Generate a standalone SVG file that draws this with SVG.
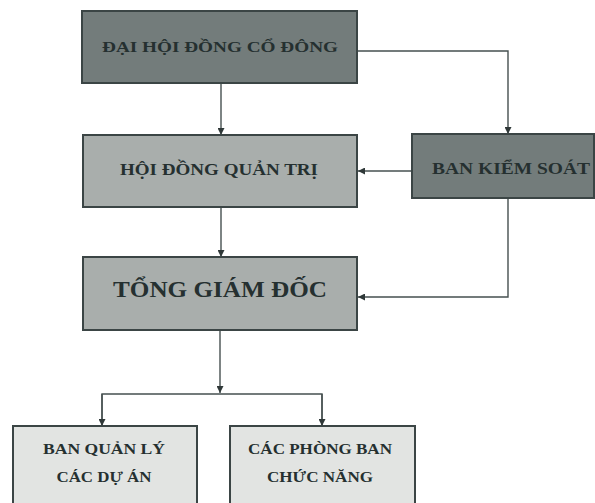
<svg xmlns="http://www.w3.org/2000/svg" width="595" height="503" viewBox="0 0 595 503">
  <style>
    .box { stroke: #3b4545; stroke-width: 2; }
    .dark { fill: #737c7b; }
    .mid { fill: #a9aeac; }
    .light { fill: #e2e4e2; }
    .t { font-family: "Liberation Serif", "DejaVu Serif", serif; font-weight: bold; fill: #253030; text-anchor: middle; }
    .conn { fill: none; stroke: #465050; stroke-width: 1.4; }
  </style>
  <defs>
    <marker id="ah" viewBox="0 0 10 10" refX="10" refY="5" markerWidth="7" markerHeight="7" markerUnits="userSpaceOnUse" orient="auto">
      <path d="M0,0 L10,5 L0,10 z" fill="#2f3838"/>
    </marker>
  </defs>
  <rect width="595" height="503" fill="#ffffff"/>

  <g id="connectors">
    <path class="conn" d="M221,83 V135" marker-end="url(#ah)"/>
    <path class="conn" d="M357,51 H508 V134" marker-end="url(#ah)"/>
    <path class="conn" d="M412,171 H358" marker-end="url(#ah)"/>
    <path class="conn" d="M221,207 V257" marker-end="url(#ah)"/>
    <path class="conn" d="M508,198 V297 H358" marker-end="url(#ah)"/>
    <path class="conn" d="M220,330 V393" marker-end="url(#ah)"/>
    <path class="conn" d="M102,426 V394 H322 V426" />
    <path class="conn" d="M102,394 V426" marker-end="url(#ah)"/>
    <path class="conn" d="M322,394 V426" marker-end="url(#ah)"/>
  </g>

  <g id="dai-hoi-dong-co-dong">
    <rect class="box dark" x="82" y="11" width="275" height="72"/>
    <text class="t" x="220" y="52" font-size="14" textLength="236" lengthAdjust="spacingAndGlyphs">ĐẠI HỘI ĐỒNG CỔ ĐÔNG</text>
  </g>

  <g id="hoi-dong-quan-tri">
    <rect class="box mid" x="83" y="135" width="274" height="72"/>
    <text class="t" x="219" y="175" font-size="17" textLength="198" lengthAdjust="spacingAndGlyphs">HỘI ĐỒNG QUẢN TRỊ</text>
  </g>

  <g id="ban-kiem-soat">
    <rect class="box dark" x="412" y="134" width="182" height="64"/>
    <text class="t" x="511" y="174" font-size="16" textLength="158" lengthAdjust="spacingAndGlyphs">BAN KIỂM SOÁT</text>
  </g>

  <g id="tong-giam-doc">
    <rect class="box mid" x="83" y="257" width="274" height="73"/>
    <text class="t" x="220" y="297" font-size="23" font-weight="normal" textLength="214" lengthAdjust="spacingAndGlyphs">TỔNG GIÁM ĐỐC</text>
  </g>

  <g id="ban-quan-ly-cac-du-an">
    <rect class="box light" x="13" y="426" width="184" height="80"/>
    <text class="t" x="104" y="454" font-size="14" textLength="122" lengthAdjust="spacingAndGlyphs">BAN QUẢN LÝ</text>
    <text class="t" x="104" y="482" font-size="14" textLength="95" lengthAdjust="spacingAndGlyphs">CÁC DỰ ÁN</text>
  </g>

  <g id="cac-phong-ban-chuc-nang">
    <rect class="box light" x="230" y="426" width="185" height="80"/>
    <text class="t" x="320" y="454" font-size="14" textLength="144" lengthAdjust="spacingAndGlyphs">CÁC PHÒNG BAN</text>
    <text class="t" x="320" y="482" font-size="14" textLength="106" lengthAdjust="spacingAndGlyphs">CHỨC NĂNG</text>
  </g>
</svg>
